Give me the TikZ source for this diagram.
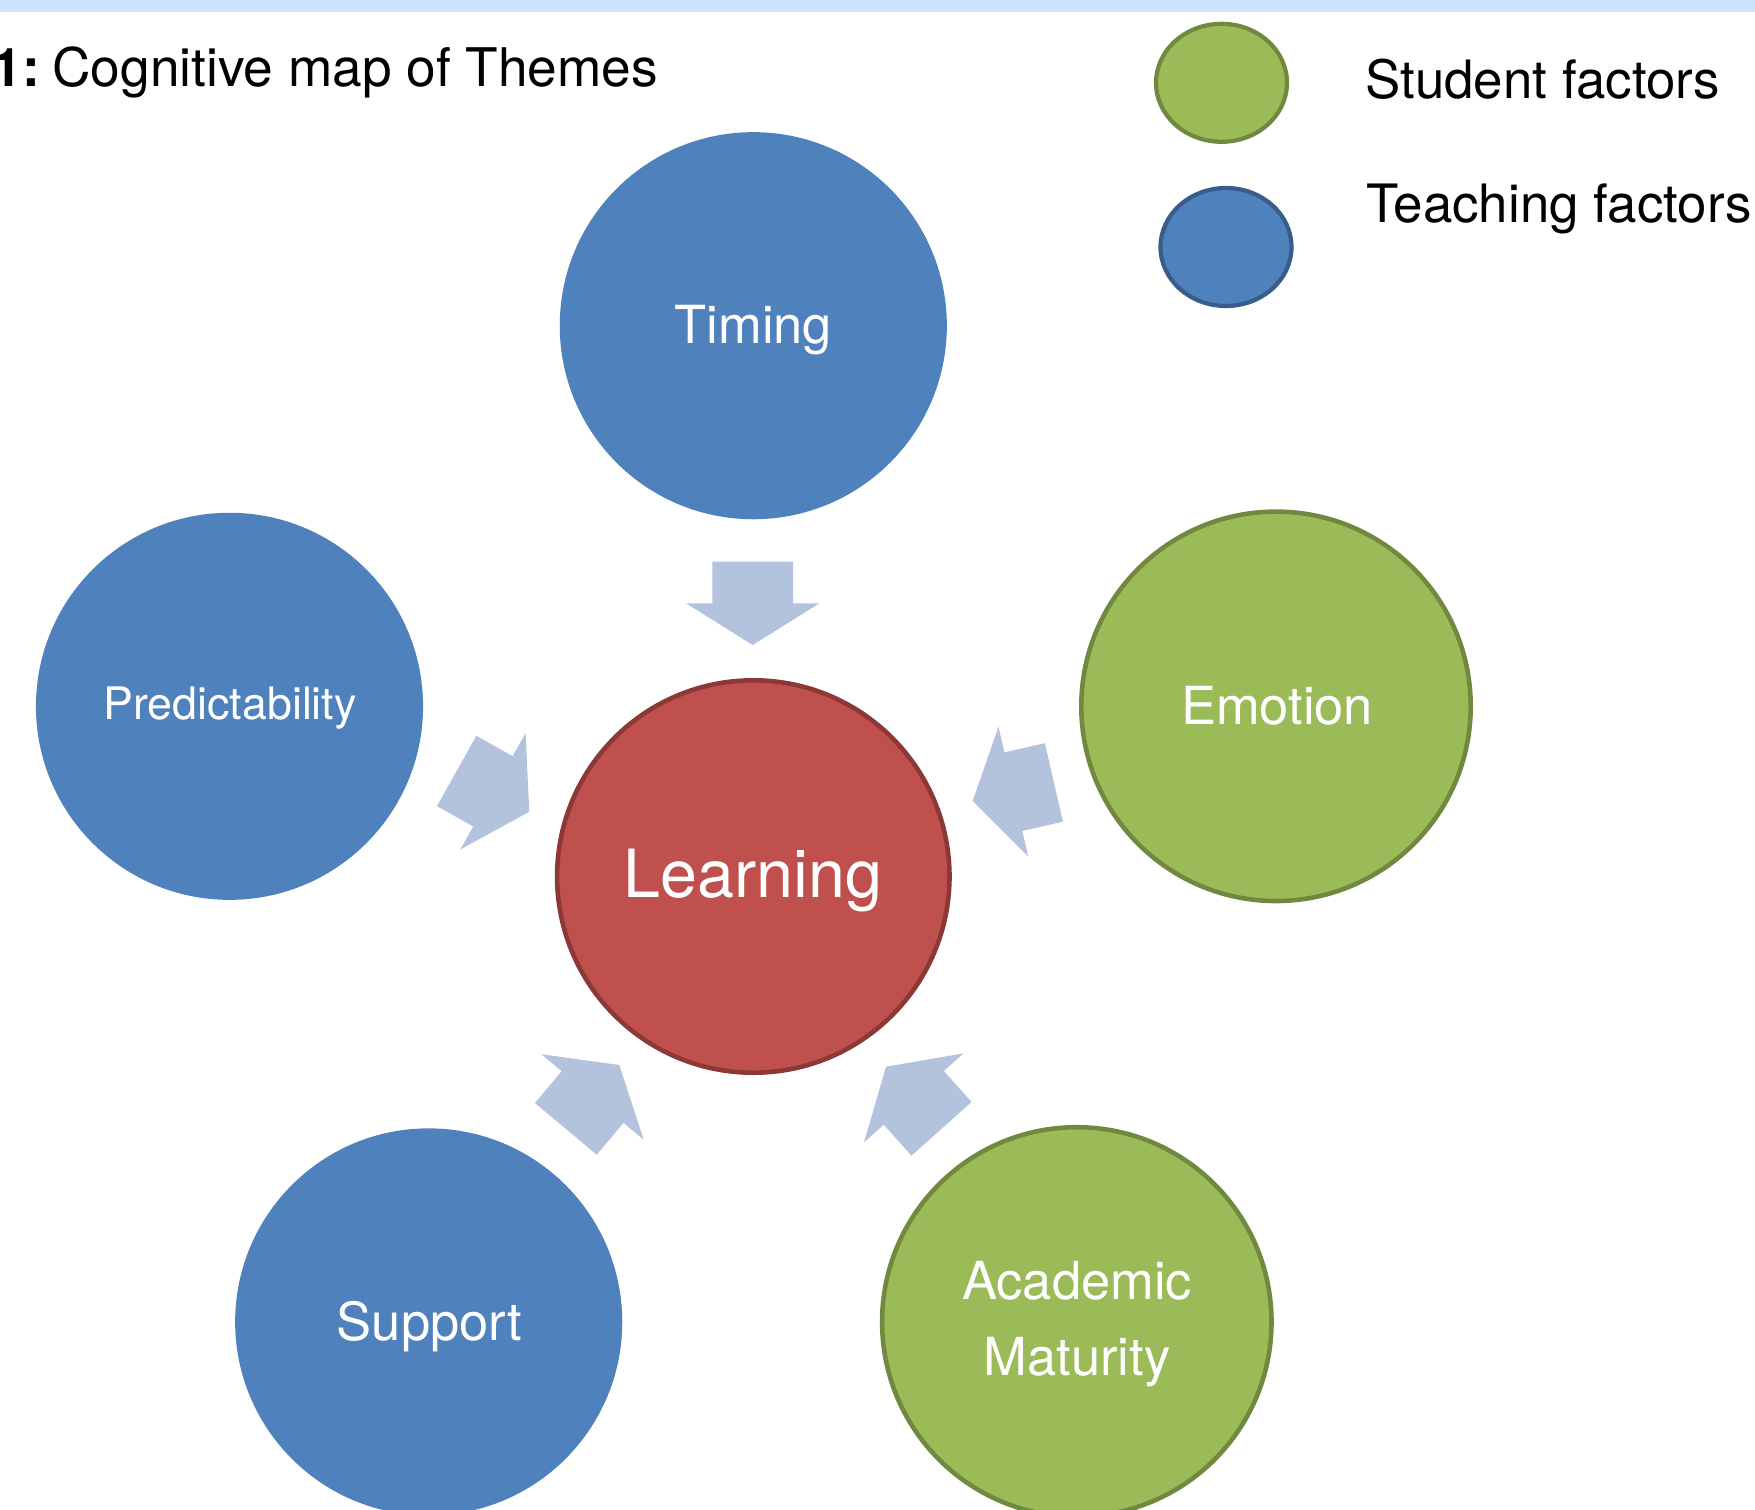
\documentclass[tikz,border=0pt]{standalone}
\usepackage{fontspec}
\setmainfont{TeX Gyre Heros}
\usetikzlibrary{shapes.geometric}
\definecolor{tblue}{RGB}{79,129,189}
\definecolor{tblueb}{RGB}{56,93,138}
\definecolor{sgreen}{RGB}{155,187,89}
\definecolor{sgreenb}{RGB}{113,137,63}
\definecolor{lred}{RGB}{192,80,77}
\definecolor{lredb}{RGB}{140,56,54}
\definecolor{arrowc}{RGB}{179,194,221}
\definecolor{barc}{RGB}{204,228,251}
\newcommand\setfs[1]{\fontsize{#1}{#1}\selectfont}
\newcommand\blockarr[2]{\fill[arr, shift={(#1)}, rotate=#2] (0,0) -- (-41.7,66.7) -- (-41.7,40.3) -- (-83.3,40.3) -- (-83.3,-40.3) -- (-41.7,-40.3) -- (-41.7,-66.7) -- cycle;}
\begin{document}
\begin{tikzpicture}[x=0.02cm,y=-0.02cm,
  blueball/.style={circle, fill=tblue, inner sep=0pt, outer sep=0pt, minimum size=7.744cm},
  greenball/.style={circle, fill=sgreen, draw=sgreenb, line width=2.6pt, inner sep=0pt, outer sep=0pt, minimum size=7.79cm},
  redball/.style={circle, fill=lred, draw=lredb, line width=2.6pt, inner sep=0pt, outer sep=0pt, minimum size=7.85cm},
  legball/.style={ellipse, line width=2.4pt, inner sep=0pt, minimum width=2.62cm, minimum height=2.36cm},
  lbl/.style={anchor=base, text=white, inner sep=0pt, font=\setfs{29.87pt}},
  blk/.style={anchor=base west, text=black, inner sep=0pt, font=\setfs{29.87pt}},
  arr/.style={fill=arrowc}]
\useasboundingbox (0,0) rectangle (1755,1509);
\clip (0,0) rectangle (1755,1509);
\fill[barc] (0,0) rectangle (1755,12);
% title and legend
\node[blk, font=\setfs{30.3pt}] (title) at (-7.5,86) {\textbf{1:}\hspace{7pt}Cognitive map of Themes};
\node[legball, fill=sgreen, draw=sgreenb] (legs) at (1221.5,82.8) {};
\node[legball, fill=tblue, draw=tblueb] (legt) at (1226,247) {};
\node[blk, font=\setfs{30.1pt}] (legstext) at (1365,98) {Student factors};
\node[blk, font=\setfs{30.1pt}] (legttext) at (1366,222) {Teaching factors};
% circles
\node[blueball] (timing) at (753.3,325.7) {};
\node[blueball] (pred) at (229.5,706.3) {};
\node[greenball] (emotion) at (1276,706.3) {};
\node[redball] (learning) at (753.3,876.5) {};
\node[blueball] (support) at (428.7,1321.9) {};
\node[greenball] (acad) at (1076.8,1321.9) {};
% labels
\node[lbl] (timingtxt) at (753.3,343) {Timing};
\node[lbl, font=\setfs{25.5pt}] (predtxt) at (230,719.5) {Predictability};
\node[lbl] (emotiontxt) at (1277,724.5) {Emotion};
\node[lbl, font=\setfs{37.84pt}] (learningtxt) at (753.3,897.7) {Learning};
\node[lbl] (supporttxt) at (429.5,1340.5) {Support};
\node[lbl] (acadtxt1) at (1077,1299) {Academic};
\node[lbl] (acadtxt2) at (1077,1375.7) {Maturity};
% block arrows
\coordinate (tipT) at (752.7,645);
\coordinate (tipP) at (529.3,811.7);
\coordinate (tipE) at (972.7,801);
\coordinate (tipS) at (619.3,1065);
\coordinate (tipA) at (886,1066.7);
\blockarr{tipT}{-90}
\blockarr{tipP}{-29.3}
\blockarr{tipE}{-167.1}
\blockarr{tipS}{50.1}
\blockarr{tipA}{131.8}
\end{tikzpicture}
\end{document}
